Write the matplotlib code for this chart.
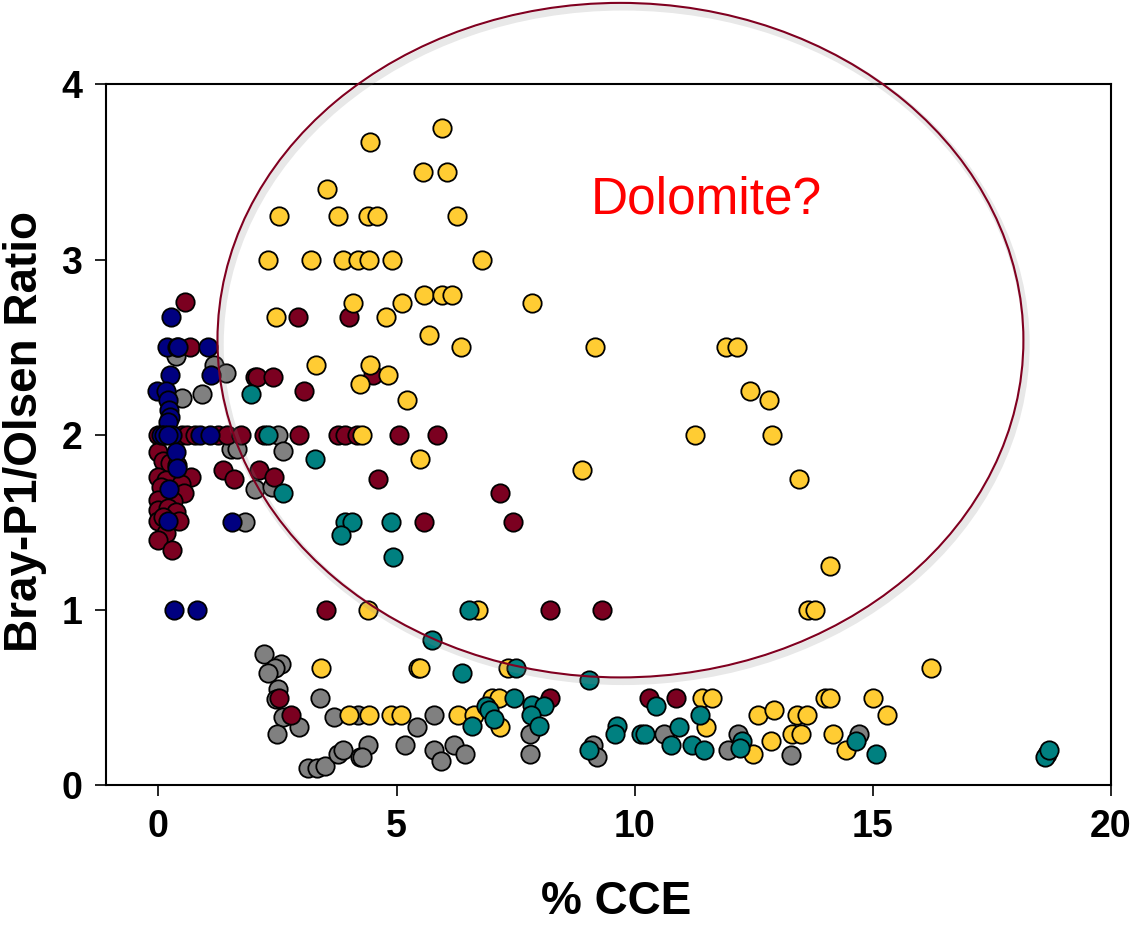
import matplotlib
matplotlib.use("Agg")
import matplotlib.pyplot as plt
import matplotlib.patheffects as pe
from matplotlib.patches import Ellipse

plt.rcParams['font.family'] = ['Liberation Sans', 'DejaVu Sans']

# --- data (x = % CCE, y = Bray-P1/Olsen ratio) ---
gray_x = [0.36, 1.16, 1.42, 0.50, 0.92, 2.52, 1.52, 1.65, 2.62, 2.03, 2.38, 1.82,
          2.21, 2.57, 2.45, 2.30, 2.52, 2.47, 3.39, 2.62, 2.96, 2.50, 3.69, 4.19,
          3.15, 3.32, 3.50, 3.76, 3.88, 4.23, 4.41, 5.78, 5.43, 7.80, 4.27, 5.17,
          5.78, 6.21, 6.44, 5.94, 7.80, 9.12, 9.20, 10.62, 11.95, 12.16, 13.28, 14.70]
gray_y = [2.45, 2.40, 2.35, 2.21, 2.23, 2.00, 1.92, 1.92, 1.91, 1.69, 1.70, 1.50,
          0.75, 0.69, 0.67, 0.64, 0.55, 0.49, 0.50, 0.39, 0.33, 0.29, 0.39, 0.40,
          0.10, 0.10, 0.11, 0.18, 0.20, 0.16, 0.23, 0.40, 0.33, 0.29, 0.16, 0.23,
          0.20, 0.23, 0.18, 0.14, 0.18, 0.23, 0.16, 0.29, 0.20, 0.29, 0.17, 0.29]

maroon_x = [0.55, 0.67, 2.03, 2.08, 2.40, 3.06, 4.51, 2.94, 4.01,
            0.00, 0.10, 0.50, 0.60, 0.77, 1.25, 1.44, 1.74, 2.21, 2.95,
            3.76, 3.92, 4.16, 5.05, 5.85,
            1.35, 1.59, 2.12, 2.43, 4.60, 7.18, 5.57, 7.44,
            0.00, 0.10, 0.25, 0.40, 0.00, 0.15, 0.05, 0.69, 0.48, 0.53, 0.30,
            0.00, 0.00, 0.20, 0.37, 0.00, 0.10, 0.43, 0.15, 0.00, 0.29,
            3.52, 8.23, 9.31, 2.54, 2.78, 8.22, 10.30, 10.86]
maroon_y = [2.76, 2.50, 2.33, 2.33, 2.33, 2.25, 2.34, 2.67, 2.67,
            2.00, 2.00, 2.00, 2.00, 2.00, 2.00, 2.00, 2.00, 2.00, 2.00,
            2.00, 2.00, 2.00, 2.00, 2.00,
            1.80, 1.75, 1.80, 1.76, 1.75, 1.67, 1.50, 1.50,
            1.90, 1.85, 1.84, 1.83, 1.76, 1.74, 1.70, 1.76, 1.72, 1.67, 1.62,
            1.63, 1.57, 1.58, 1.56, 1.51, 1.53, 1.51, 1.44, 1.40, 1.34,
            1.00, 1.00, 1.00, 0.50, 0.40, 0.50, 0.50, 0.50]

yellow_x = [5.95, 4.45, 5.56, 6.06, 3.55, 2.53, 3.76, 4.40, 4.59, 6.27,
            2.31, 3.20, 3.87, 4.20, 4.42, 4.91, 6.80,
            5.58, 5.95, 6.16, 4.08, 5.12, 7.85,
            2.47, 4.77, 5.68, 6.35, 9.17, 11.91, 12.15,
            3.30, 4.45, 4.83, 4.24, 12.43, 5.22, 12.82,
            4.28, 11.27, 12.89, 5.49, 8.89, 13.45, 14.09,
            4.41, 6.71, 13.63, 13.79,
            3.41, 5.45, 5.49, 7.34, 16.22,
            7.01, 7.16, 11.41, 11.63, 14.00, 14.10, 15.00,
            4.00, 4.42, 4.89, 5.10, 6.30, 6.62, 12.59, 12.92, 13.40, 13.62, 15.30,
            7.18, 11.49, 13.31, 13.49, 14.16, 12.87, 12.48, 14.44]
yellow_y = [3.75, 3.67, 3.50, 3.50, 3.40, 3.25, 3.25, 3.25, 3.25, 3.25,
            3.00, 3.00, 3.00, 3.00, 3.00, 3.00, 3.00,
            2.80, 2.80, 2.80, 2.75, 2.75, 2.75,
            2.67, 2.67, 2.57, 2.50, 2.50, 2.50, 2.50,
            2.40, 2.40, 2.34, 2.29, 2.25, 2.20, 2.20,
            2.00, 2.00, 2.00, 1.86, 1.80, 1.75, 1.25,
            1.00, 1.00, 1.00, 1.00,
            0.67, 0.67, 0.67, 0.67, 0.67,
            0.50, 0.50, 0.50, 0.50, 0.50, 0.50, 0.50,
            0.40, 0.40, 0.40, 0.40, 0.40, 0.40, 0.40, 0.43, 0.40, 0.40, 0.40,
            0.33, 0.33, 0.29, 0.29, 0.29, 0.25, 0.18, 0.20]

teal_x = [1.95, 2.31, 2.62, 3.29, 3.92, 4.06, 3.83, 4.88, 4.93,
          6.53, 5.75, 6.38, 7.50, 9.05,
          7.46, 7.85, 8.09, 6.87, 6.95, 7.04, 6.59, 7.82, 7.98, 10.45,
          9.63, 9.58, 10.13, 10.22, 9.05,
          11.38, 10.93, 10.76, 11.20, 11.46, 12.26, 12.20, 14.65, 15.06,
          18.65, 18.61, 18.69]
teal_y = [2.23, 2.00, 1.67, 1.86, 1.50, 1.50, 1.43, 1.50, 1.30,
          1.00, 0.83, 0.64, 0.67, 0.60,
          0.50, 0.46, 0.45, 0.45, 0.43, 0.38, 0.34, 0.40, 0.34, 0.45,
          0.34, 0.29, 0.29, 0.29, 0.20,
          0.40, 0.33, 0.23, 0.23, 0.20, 0.25, 0.21, 0.25, 0.18,
          0.18, 0.16, 0.20]

navy_x = [0.27, 0.18, 0.39, 0.42, 1.05, 1.11, 0.25, -0.03, 0.15, 0.20, 0.22, 0.25, 0.20,
          0.05, 0.11, 0.29, 0.88, 1.09, 0.20,
          0.36, 0.39, 0.23, 0.20, 1.54, 0.32, 0.82]
navy_y = [2.67, 2.50, 2.50, 2.50, 2.50, 2.34, 2.34, 2.25, 2.25, 2.20, 2.14, 2.10, 2.07,
          2.00, 2.00, 2.00, 2.00, 2.00, 2.00,
          1.90, 1.81, 1.69, 1.51, 1.50, 1.00, 1.00]

# --- Plotting ---
fig = plt.figure(figsize=(11.35, 9.27), dpi=100)
ax = fig.add_axes([0.0934, 0.153, 0.8855, 0.756])

kw = dict(s=175, edgecolors='black', linewidths=1.3)
ax.scatter(gray_x, gray_y, c='#808080', zorder=2, **kw)
ax.scatter(maroon_x, maroon_y, c='#7B0020', zorder=3, **kw)
ax.scatter(yellow_x, yellow_y, c='#FFCC33', zorder=4, **kw)
ax.scatter(teal_x, teal_y, c='#008080', zorder=5, **kw)
ax.scatter(navy_x, navy_y, c='#000080', zorder=6, **kw)

ell = Ellipse((9.70, 2.54), width=16.92, height=3.85, fill=False,
              edgecolor='#800020', linewidth=1.5, clip_on=False, zorder=7)
ell.set_path_effects([pe.SimpleLineShadow(offset=(2, -3), shadow_color='0.55',
                                          alpha=0.2, linewidth=5),
                      pe.Normal()])
ax.add_patch(ell)

ax.text(11.5, 3.34, 'Dolomite?', color='#FF0000', fontsize=37,
        ha='center', va='center', zorder=8)

ax.set_xlim(-1.1, 20)
ax.set_ylim(0, 4)
ax.set_xticks([0, 5, 10, 15, 20])
ax.set_yticks([0, 1, 2, 3, 4])
for side in ax.spines.values():
    side.set_linewidth(1.5)
ax.tick_params(direction='out', length=8, width=1.2, pad=9, labelsize=27)
for lab in ax.get_xticklabels() + ax.get_yticklabels():
    lab.set_fontweight('bold')

ax.set_xlabel('% CCE', fontsize=33, fontweight='bold')
ax.set_ylabel('Bray-P1/Olsen Ratio', fontsize=33, fontweight='bold')
ax.xaxis.set_label_coords(0.508, -0.135)
ax.yaxis.set_label_coords(-0.059, 0.504)

plt.savefig('out.png', dpi=100)
